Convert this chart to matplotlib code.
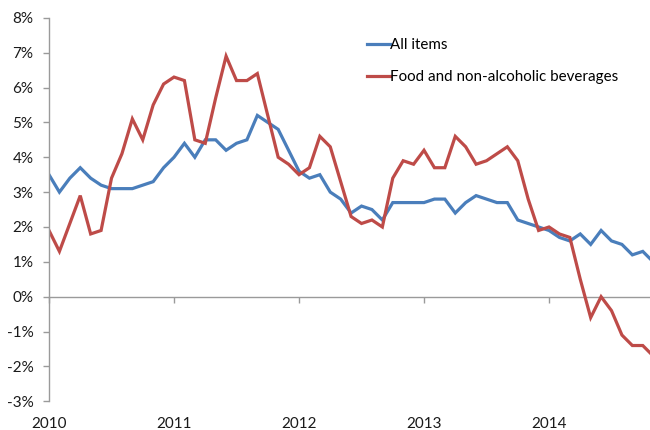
import numpy as np
import matplotlib
matplotlib.use("Agg")
import matplotlib.pyplot as plt

plt.rcParams["font.family"] = ["Lato", "DejaVu Sans"]

# Annual inflation rates, monthly Jan 2010 - Nov 2014 (%)
all_items = [3.5, 3.0, 3.4, 3.7, 3.4, 3.2, 3.1, 3.1, 3.1, 3.2, 3.3, 3.7,
             4.0, 4.4, 4.0, 4.5, 4.5, 4.2, 4.4, 4.5, 5.2, 5.0, 4.8, 4.2,
             3.6, 3.4, 3.5, 3.0, 2.8, 2.4, 2.6, 2.5, 2.2, 2.7, 2.7, 2.7,
             2.7, 2.8, 2.8, 2.4, 2.7, 2.9, 2.8, 2.7, 2.7, 2.2, 2.1, 2.0,
             1.9, 1.7, 1.6, 1.8, 1.5, 1.9, 1.6, 1.5, 1.2, 1.3, 1.0]
food = [1.9, 1.3, 2.1, 2.9, 1.8, 1.9, 3.4, 4.1, 5.1, 4.5, 5.5, 6.1,
        6.3, 6.2, 4.5, 4.4, 5.7, 6.9, 6.2, 6.2, 6.4, 5.2, 4.0, 3.8,
        3.5, 3.7, 4.6, 4.3, 3.3, 2.3, 2.1, 2.2, 2.0, 3.4, 3.9, 3.8,
        4.2, 3.7, 3.7, 4.6, 4.3, 3.8, 3.9, 4.1, 4.3, 3.9, 2.8, 1.9,
        2.0, 1.8, 1.7, 0.5, -0.6, 0.0, -0.4, -1.1, -1.4, -1.4, -1.7]
years = ["2010", "2011", "2012", "2013", "2014"]
y_ticks = list(range(-3, 9))
series_labels = ["All items", "Food and non-alcoholic beverages"]

blue = "#4A7EBB"
red = "#BE4B48"
grey = "#9A9A9A"

fig = plt.figure(figsize=(6.5, 4.3), dpi=100)
# plot area runs past the right edge of the image, like the cropped original
ax = fig.add_axes([49 / 650, 28.7 / 430, 614.6 / 650, 383.5 / 430])

months = np.arange(len(all_items))
ax.plot(months, all_items, color=blue, lw=2.3, label=series_labels[0], solid_joinstyle="miter")
ax.plot(months, food, color=red, lw=2.3, label=series_labels[1], solid_joinstyle="miter")

ax.set_xlim(0, 59)
ax.set_ylim(-3, 8)

# axes styling
for s in ["top", "right"]:
    ax.spines[s].set_visible(False)
ax.spines["bottom"].set_position(("data", 0))
for s in ["left", "bottom"]:
    ax.spines[s].set_color(grey)
    ax.spines[s].set_linewidth(1.0)
ax.spines["bottom"].set_zorder(0)

ax.set_yticks(y_ticks)
ax.set_yticklabels([f"{v}%" for v in y_ticks])
ax.tick_params(axis="y", direction="out", length=4.3, width=1, color=grey,
               pad=7, labelsize=11, labelcolor="#1a1a1a")

year_pos = [12 * i for i in range(len(years))]
ax.set_xticks(year_pos)
ax.set_xticklabels([])
ax.tick_params(axis="x", direction="out", length=4, width=1, color=grey)

for pos, yr in zip(year_pos, years):
    ax.text(pos, -0.058, yr, transform=ax.get_xaxis_transform(),
            ha="center", va="center", fontsize=11, color="#1a1a1a")

leg = ax.legend(loc="upper left", bbox_to_anchor=(367 / 650, 1 - 38 / 430),
                bbox_transform=fig.transFigure, frameon=False, borderpad=0,
                borderaxespad=0, handlelength=1.5, handletextpad=0.05,
                labelspacing=1.2, fontsize=10.9)

plt.savefig("out.png", dpi=100)
